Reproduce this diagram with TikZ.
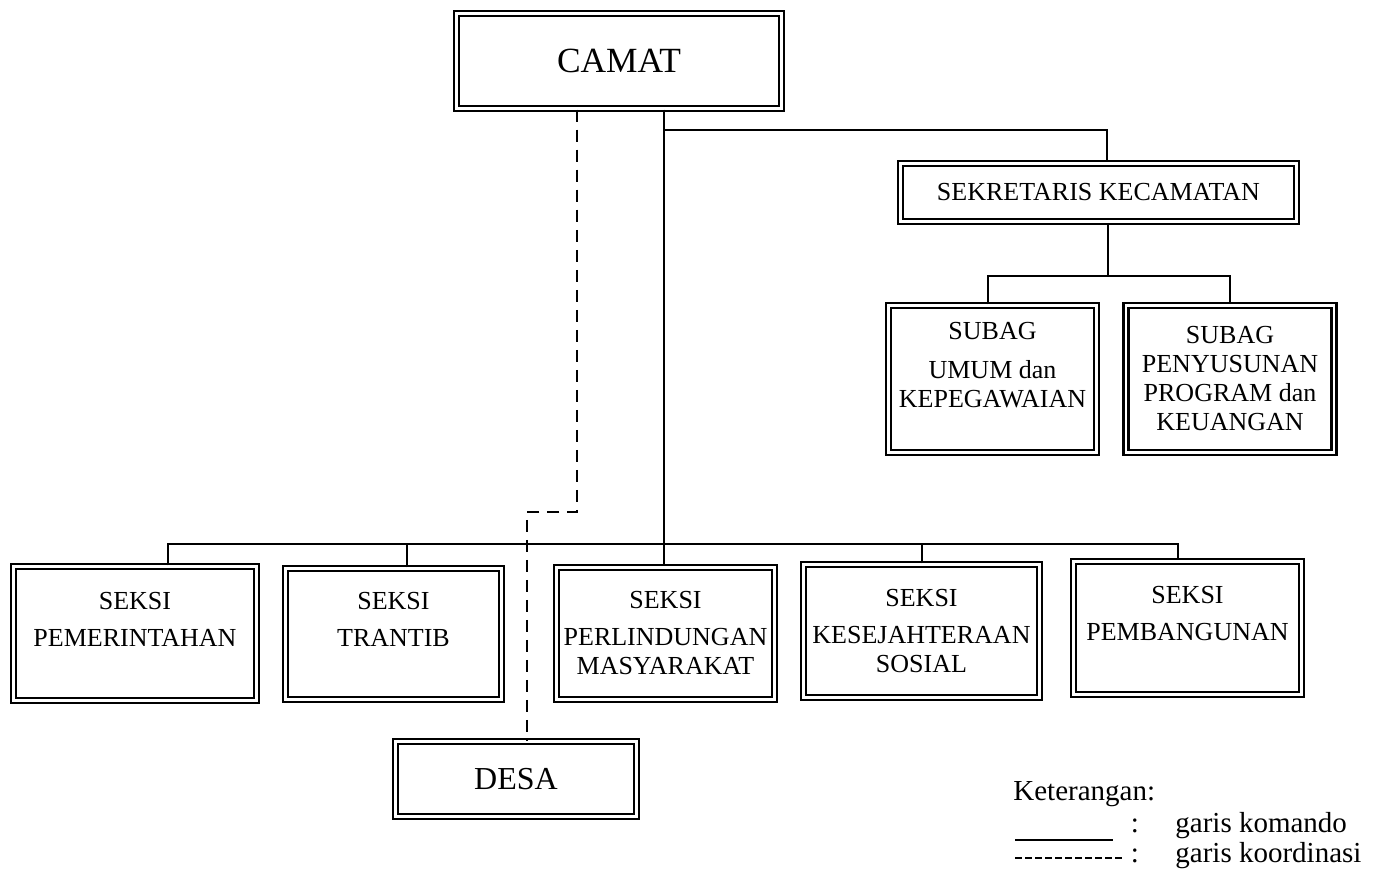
\documentclass[tikz,border=0pt]{standalone}
\usepackage{fontspec}
\setmainfont{Liberation Serif}
\usetikzlibrary{positioning}

\begin{document}
\begin{tikzpicture}[x=0.5pt,y=-0.5pt,
        unit/.style={draw, double, line width=1.25pt, double distance=1.1pt,
            inner sep=1pt, align=center, font=\fontsize{13}{14.5}\selectfont},
        komando/.style={line width=1pt},
        koordinasi/.style={line width=1.2pt, dash pattern=on 6pt off 4pt},
        legend/.style={inner sep=0pt, font=\fontsize{14.5}{16}\selectfont}]
    \useasboundingbox (0,0) rectangle (1377,872);

    % unit kerja
    \node[unit, minimum width=162.5pt, minimum height=47.5pt, font=\fontsize{17.7}{20}\selectfont] (camat) at (619,61) {CAMAT};
    \node[unit, minimum width=198pt, minimum height=29pt] (sekcam) at (1098.5,192.5) {SEKRETARIS KECAMATAN};
    \node[unit, minimum width=104pt, minimum height=73.5pt] (subagumum) at (992.5,379) {SUBAG\\[5pt]UMUM dan\\KEPEGAWAIAN\\~};
    \node[unit, minimum width=104pt, minimum height=73.5pt] (subagprog) [right=13.5pt of subagumum] {SUBAG\\PENYUSUNAN\\PROGRAM dan\\KEUANGAN};
    \node[unit, minimum width=121.5pt, minimum height=67pt] (seksipem) at (135,633.5) {SEKSI\\[4pt]PEMERINTAHAN\\~};
    \node[unit, minimum width=108pt, minimum height=65.5pt] (seksitrantib) at (393.5,634) {SEKSI\\[4pt]TRANTIB\\~};
    \node[unit, minimum width=109pt, minimum height=66pt] (seksilinmas) at (665.5,633.5) {SEKSI\\[4pt]PERLINDUNGAN\\MASYARAKAT};
    \node[unit, minimum width=118pt, minimum height=66.5pt] (seksikesos) at (921.5,631) {SEKSI\\[4pt]KESEJAHTERAAN\\SOSIAL};
    \node[unit, minimum width=114pt, minimum height=66.5pt] (seksibang) at (1187.5,628) {SEKSI\\[4pt]PEMBANGUNAN\\~};
    \node[unit, minimum width=120.5pt, minimum height=37.5pt, font=\fontsize{16}{19}\selectfont] (desa) at (516,779) {DESA};

    % titik belok garis
    \coordinate (cabang) at (664,130);
    \coordinate (pusat) at (664,544);
    \coordinate (subbus) at (1108,276);
    \coordinate (belok1) at (577,512);
    \coordinate (belok2) at (527,512);

    % garis komando
    \draw[komando] (camat.south -| pusat) -- (seksilinmas.north -| pusat);
    \draw[komando] (cabang) -| ([xshift=4.25pt]sekcam.north);
    \draw[komando] (sekcam.south -| subbus) -- (subbus);
    \draw[komando] ([xshift=-2.25pt]subagumum.north) |- (subagprog.north |- subbus) -- (subagprog.north);
    \draw[komando] ([xshift=16.5pt]seksipem.north) |- ([xshift=-4.75pt]seksibang.north |- pusat) -- ([xshift=-4.75pt]seksibang.north);
    \foreach \n/\dx in {seksitrantib/6.5pt, seksikesos/0pt}
        \draw[komando] ([xshift=\dx]\n.north) -- ([xshift=\dx]\n.north |- pusat);

    % garis koordinasi
    \draw[koordinasi] (camat.south -| belok1) -- (belok1) -- (belok2) -- (desa.north -| belok2);

    % keterangan
    \node[legend, anchor=west] (ket) at (1013,794) {Keterangan:};
    \node[legend, anchor=west] (txtkomando) at (1175,826) {garis komando};
    \node[legend, anchor=west] (txtkoordinasi) at (1175,856) {garis koordinasi};
    \node[legend] (titik1) at (1135,826) {:};
    \node[legend] (titik2) at (1135,856) {:};
    \coordinate (lk1) at (1015,840);
    \coordinate (lk2) at (1113,840);
    \coordinate (lo1) at (1015,858);
    \coordinate (lo2) at (1125,858);
    \draw[komando] (lk1) -- (lk2);
    \draw[line width=1pt, dash pattern=on 3.5pt off 1.5pt] (lo1) -- (lo2);
\end{tikzpicture}
\end{document}
